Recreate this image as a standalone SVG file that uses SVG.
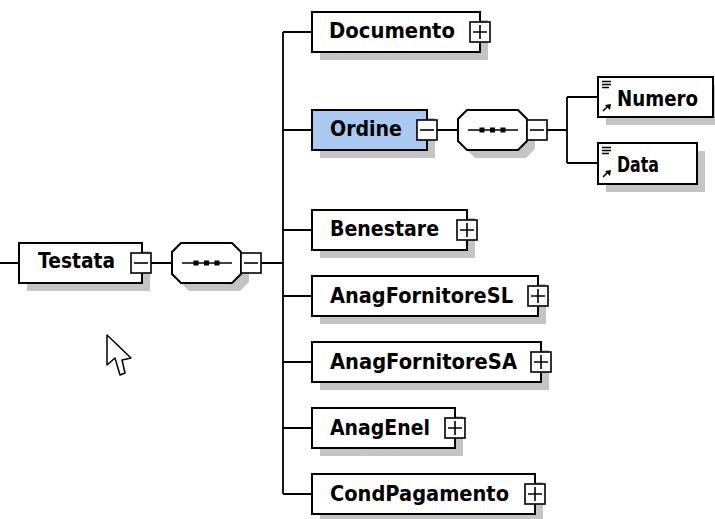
<svg xmlns="http://www.w3.org/2000/svg" width="715" height="519" viewBox="0 0 715 519">
<style>
.box{fill:#fff;stroke:#000;stroke-width:2}
.sel{fill:#a9c9f0;stroke:#000;stroke-width:2}
.sh{fill:#c4c4c4}
.pm{fill:#fff;stroke:#000;stroke-width:1.6}
.sg{stroke:#000;stroke-width:1.6;fill:none}
.lbl{font-family:"DejaVu Sans",Verdana,sans-serif;font-weight:bold;font-size:21px;fill:#000}
.con{stroke:#000;stroke-width:1.8;fill:none}
.ic{stroke:#000;stroke-width:1.6;fill:none}
</style>
<defs>
<g id="plus"><rect class="pm" x="0" y="0" width="20" height="20"/><path class="sg" d="M3 10H17M10 3V17"/></g>
<g id="minus"><rect class="pm" x="0" y="0" width="20" height="20"/><path class="sg" d="M3 10H17"/></g>
<g id="seq">
<polygon class="sh" points="17,8 68,8 77,17 77,39 68,48 17,48 8,39 8,17"/>
<polygon class="box" points="9,0 60,0 69,9 69,31 60,40 9,40 0,31 0,9"/>
<path class="sg" d="M10 20H60"/>
<rect x="21.5" y="17.5" width="5" height="5"/><rect x="32" y="17.5" width="5" height="5"/><rect x="42.5" y="17.5" width="5" height="5"/>
</g>
<g id="attr">
<path class="ic" d="M4 4.5H13M4 7.5H13M4 10.5H11"/>
<path class="ic" d="M5 34L10 29"/><polygon points="13,27 12,33 7,28"/>
</g>
</defs>

<g id="connectors">
<path class="con" d="M0 263H19M151 263H172M261 263H283M283 32V494"/>
<path class="con" d="M283 32H312M283 130H312M283 230H312M283 296H312M283 362H312M283 428H312M283 494H312"/>
<path class="con" d="M437 130H458M547 130H567M567 97V163M567 97H598M567 163H598"/>
</g>

<g id="node-testata">
<rect class="sh" x="27" y="251" width="123" height="40"/>
<rect class="box" x="19" y="243" width="123" height="40"/>
<text class="lbl" x="38" y="268" textLength="77" lengthAdjust="spacingAndGlyphs">Testata</text>
<use href="#minus" x="131" y="253"/>
</g>

<g id="node-seq1">
<use href="#seq" x="172" y="243"/>
<use href="#minus" x="241" y="253"/>
</g>

<g id="node-documento">
<rect class="sh" x="320" y="20" width="168" height="40"/>
<rect class="box" x="312" y="12" width="168" height="40"/>
<text class="lbl" x="329" y="38" textLength="126" lengthAdjust="spacingAndGlyphs">Documento</text>
<use href="#plus" x="470" y="22"/>
</g>

<g id="node-ordine">
<rect class="sh" x="320" y="118" width="115" height="40"/>
<rect class="sel" x="312" y="110" width="115" height="40"/>
<text class="lbl" x="330" y="136" textLength="72" lengthAdjust="spacingAndGlyphs">Ordine</text>
<use href="#minus" x="417" y="120"/>
</g>

<g id="node-seq2">
<use href="#seq" x="458" y="110"/>
<use href="#minus" x="527" y="120"/>
</g>

<g id="node-numero">
<rect class="sh" x="606" y="85" width="115" height="40"/>
<rect class="box" x="598" y="77" width="115" height="40"/>
<use href="#attr" x="598" y="77"/>
<text class="lbl" x="617" y="106" textLength="81" lengthAdjust="spacingAndGlyphs">Numero</text>
</g>

<g id="node-data">
<rect class="sh" x="606" y="151" width="99" height="41"/>
<rect class="box" x="598" y="143" width="99" height="41"/>
<use href="#attr" x="598" y="143"/>
<text class="lbl" x="617" y="172" textLength="42" lengthAdjust="spacingAndGlyphs">Data</text>
</g>

<g id="node-benestare">
<rect class="sh" x="320" y="218" width="155" height="40"/>
<rect class="box" x="312" y="210" width="155" height="40"/>
<text class="lbl" x="330" y="236" textLength="109" lengthAdjust="spacingAndGlyphs">Benestare</text>
<use href="#plus" x="457" y="220"/>
</g>

<g id="node-anagfornitoresl">
<rect class="sh" x="320" y="284" width="226" height="40"/>
<rect class="box" x="312" y="276" width="226" height="40"/>
<text class="lbl" x="330" y="303" textLength="183" lengthAdjust="spacingAndGlyphs">AnagFornitoreSL</text>
<use href="#plus" x="528" y="286"/>
</g>

<g id="node-anagfornitoresa">
<rect class="sh" x="320" y="350" width="229" height="40"/>
<rect class="box" x="312" y="342" width="229" height="40"/>
<text class="lbl" x="330" y="369" textLength="187" lengthAdjust="spacingAndGlyphs">AnagFornitoreSA</text>
<use href="#plus" x="531" y="352"/>
</g>

<g id="node-anagenel">
<rect class="sh" x="320" y="416" width="143" height="40"/>
<rect class="box" x="312" y="408" width="143" height="40"/>
<text class="lbl" x="330" y="435" textLength="100" lengthAdjust="spacingAndGlyphs">AnagEnel</text>
<use href="#plus" x="445" y="418"/>
</g>

<g id="node-condpagamento">
<rect class="sh" x="320" y="482" width="223" height="40"/>
<rect class="box" x="312" y="474" width="223" height="40"/>
<text class="lbl" x="330" y="501" textLength="179" lengthAdjust="spacingAndGlyphs">CondPagamento</text>
<use href="#plus" x="525" y="484"/>
</g>

<polygon id="cursor" points="107,335 107,365 115,358 120,375 125,373 122,360 131,358" fill="#fff" stroke="#000" stroke-width="1.5" stroke-linejoin="round"/>
</svg>
